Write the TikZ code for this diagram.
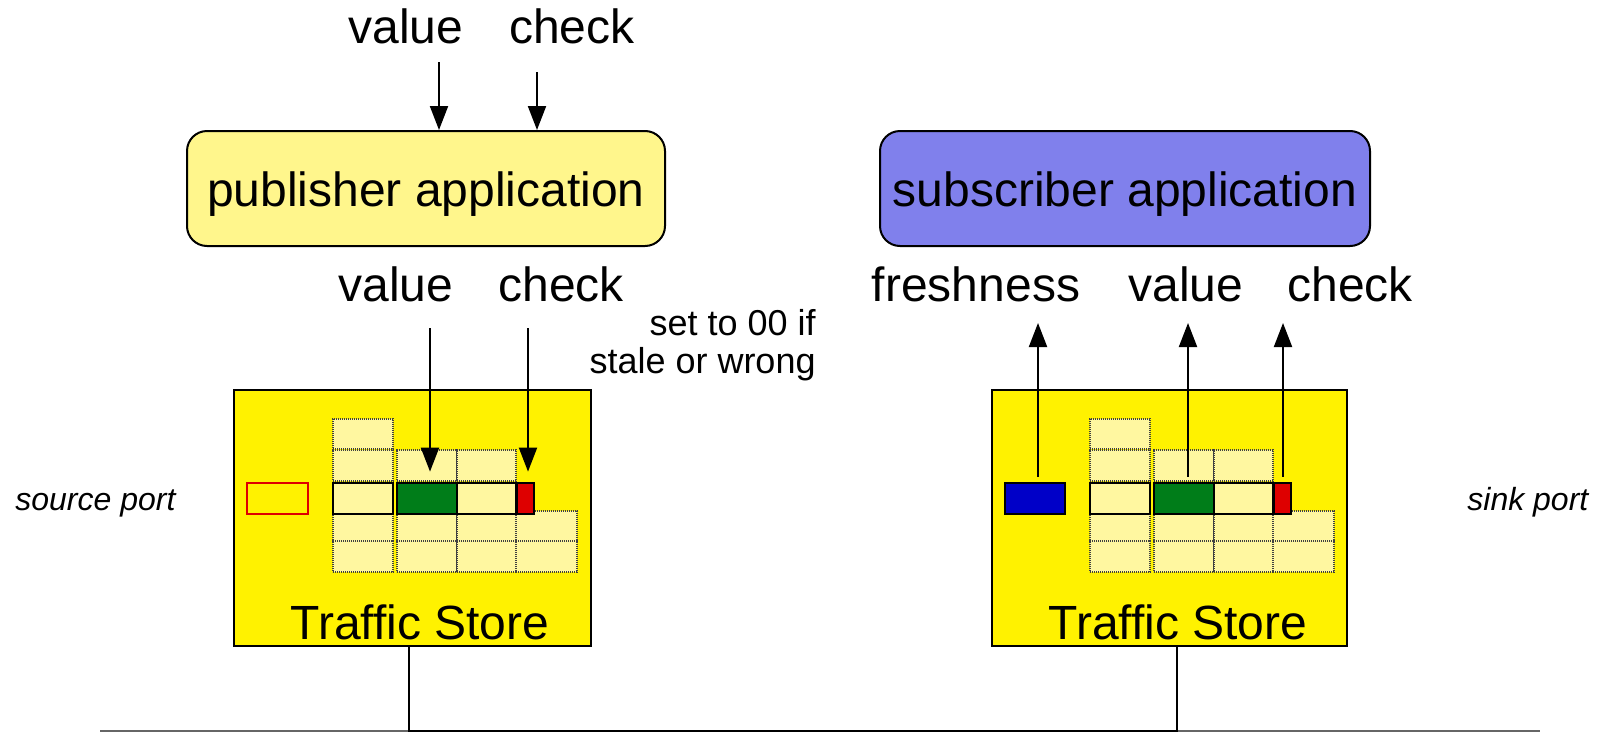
\documentclass[tikz,border=0pt]{standalone}
\usepackage{fontspec}
\setmainfont{Liberation Sans}
\usetikzlibrary{arrows.meta}

\definecolor{pubfill}{RGB}{255,246,140}
\definecolor{subfill}{RGB}{128,128,236}
\definecolor{storefill}{RGB}{255,242,0}
\definecolor{cellfill}{RGB}{255,247,160}
\definecolor{okgreen}{RGB}{0,125,25}
\definecolor{chkred}{RGB}{222,0,0}
\definecolor{freshblue}{RGB}{0,0,200}

\tikzset{
  big/.style={font=\fontsize{24}{28}\selectfont, inner sep=0pt},
  note/.style={font=\fontsize{18}{20}\selectfont, inner sep=0pt},
  port/.style={font=\fontsize{16}{20}\selectfont\itshape, inner sep=0pt},
  app/.style={draw, line width=1pt, rounded corners=10pt, minimum height=57.5pt,
    text height=23pt, text depth=5pt, inner sep=0pt, font=\fontsize{24}{28}\selectfont},
  store/.style={draw, fill=storefill, line width=1.25pt, inner sep=0pt},
  cell/.style={draw=black!75, dash pattern=on 0.6pt off 0.4pt, line width=1pt,
    fill=cellfill, inner sep=0pt},
  hcell/.style={draw=black, line width=1.4pt, inner sep=0pt},
  arr/.style={line width=1pt, -{Triangle[length=12pt,width=9pt]}},
  link/.style={line width=1pt},
  bus/.style={line width=1pt, draw=black!60},
}

% rectangular node given by its corners (in pixel units)
\newcommand\boxat[6]{%
  \node[#2, minimum width={((#5)-(#3))*0.5pt}, minimum height={((#6)-(#4))*0.5pt}]
    (#1) at ({((#3)+(#5))/2},{((#4)+(#6))/2}) {};}

% the slot grid of one traffic store, shifted by #2
\newcommand\storegrid[2]{%
  % column 1
  \boxat{#111}{cell}{#2+99}{419}{#2+159}{449}
  \boxat{#121}{cell}{#2+99}{450}{#2+159}{481}
  \boxat{#141}{cell}{#2+99}{514}{#2+159}{541}
  \boxat{#151}{cell}{#2+99}{541}{#2+159}{572}
  % column 2
  \boxat{#122}{cell}{#2+163}{450}{#2+223}{481}
  \boxat{#142}{cell}{#2+163}{514}{#2+223}{541}
  \boxat{#152}{cell}{#2+163}{541}{#2+223}{572}
  % column 3
  \boxat{#123}{cell}{#2+223}{450}{#2+282}{481}
  \boxat{#143}{cell}{#2+223}{514}{#2+282}{541}
  \boxat{#153}{cell}{#2+223}{541}{#2+282}{572}
  % column 4
  \boxat{#144}{cell}{#2+282}{511}{#2+343}{541}
  \boxat{#154}{cell}{#2+282}{541}{#2+343}{572}
  % the selected dataset
  \boxat{#131}{hcell, fill=cellfill}{#2+99}{483}{#2+159}{514}
  \boxat{#132}{hcell, fill=okgreen}{#2+163}{483}{#2+223}{514}
  \boxat{#133}{hcell, fill=cellfill}{#2+223}{483}{#2+282}{514}
  \boxat{#13r}{hcell, fill=chkred}{#2+283}{483}{#2+300}{514}
}

\begin{document}
\begin{tikzpicture}[x=0.5pt, y=-0.5pt]
\useasboundingbox (0,0) rectangle (1600,734);

% applications
\node[app, fill=pubfill, minimum width=239pt] (pub) at (426,188.5) {publisher application};
\node[app, fill=subfill, minimum width=245pt] (sub) at (1125,188.5) {subscriber application};

% inputs of the publisher
\node[big, anchor=base] (inval) at (406,43) {value};
\node[big, anchor=base] (inchk) at (572,43) {check};
\coordinate (pv) at (439,62);
\coordinate (pc) at (537,72);
\draw[arr] (pv) -- (pv |- pub.north);
\draw[arr] (pc) -- (pc |- pub.north);

% traffic stores
\boxat{ls}{store}{234}{390}{591}{646}
\boxat{rs}{store}{992}{390}{1347}{646}
\node[big, anchor=base] (lst) at (420,639) {Traffic Store};
\node[big, anchor=base] (rst) at (1178,639) {Traffic Store};

\storegrid{L}{234}
\storegrid{R}{991}

% source port slot and freshness slot
\boxat{srcslot}{draw=chkred, line width=1pt, inner sep=0pt}{247}{483}{308}{514}
\boxat{fresh}{hcell, fill=freshblue}{1005}{483}{1065}{514}

% publisher side
\node[big, anchor=base] (pval) at (396,301) {value};
\node[big, anchor=base] (pchk) at (561,301) {check};
\node[note, anchor=base east] (n1) at (816,335) {set to 00 if};
\node[note, anchor=base east] (n2) at (816,373) {stale or wrong};
\coordinate (sv) at (430,328);
\coordinate (sc) at (528,328);
\draw[arr, shorten >=5pt] (sv) -- (sv |- L32.north);
\draw[arr, shorten >=5pt] (sc) -- (sc |- L3r.north);

% subscriber side
\node[big, anchor=base] (sfr) at (976,301) {freshness};
\node[big, anchor=base] (sval) at (1186,301) {value};
\node[big, anchor=base] (schk) at (1350,301) {check};
\coordinate (rf) at (1038,323);
\coordinate (rv) at (1188,323);
\coordinate (rc) at (1283,323);
\draw[arr, shorten <=2.5pt] (rf |- fresh.north) -- (rf);
\draw[arr, shorten <=2.5pt] (rv |- R32.north) -- (rv);
\draw[arr, shorten <=2.5pt] (rc |- R3r.north) -- (rc);

% port labels
\node[port, anchor=base west] (srcp) at (15,510) {source port};
\node[port, anchor=base west] (sinkp) at (1467,510) {sink port};

% bus
\coordinate (busL) at (100,731);
\coordinate (busR) at (1540,731);
\draw[bus] (busL) -- (busR);
\coordinate (j1) at (409,731);
\coordinate (j2) at (1177,731);
\draw[link] (ls.south -| j1) -- (j1) -- (j2) -- (rs.south -| j2);
\end{tikzpicture}
\end{document}
